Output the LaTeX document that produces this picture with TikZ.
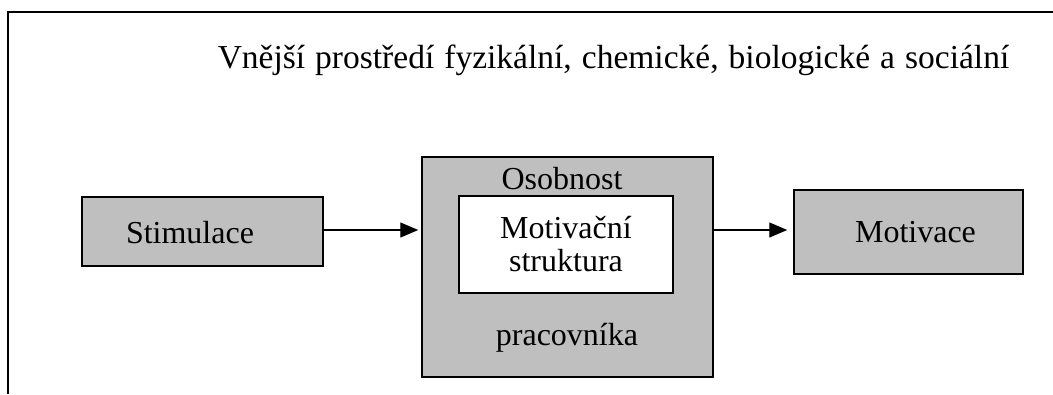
\documentclass[tikz,border=0pt]{standalone}
\usepackage{fontspec}
\setmainfont{Liberation Serif}
\usetikzlibrary{arrows.meta,positioning}

\begin{document}
\begin{tikzpicture}[
  x=1pt,y=-1pt,
  every node/.style={font=\fontsize{32}{36}\selectfont,align=center,inner sep=0pt},
  graybox/.style={draw,line width=1.5pt,fill=black!25},
  whitebox/.style={draw,line width=1.5pt,fill=white},
  arrow/.style={-{Triangle[length=18pt,width=15pt]},line width=1.3pt}
]
\useasboundingbox (0,0) rectangle (1053,394);
% frame
\draw[line width=2pt] (8,394) -- (8,12) -- (1053,12);
\node[font=\fontsize{33.5}{38}\selectfont] (env) at (613.5,60) {\spaceskip=1.2\fontdimen2\font Vnější prostředí fyzikální, chemické, biologické a sociální};

\node[graybox,minimum width=241pt,minimum height=69pt] (stim) at (202.5,231.5) {};
\node at (190,233) {Stimulace};
\node[graybox,minimum width=291pt,minimum height=220pt] (pers) at (567.5,267) {};
\node (persup) at (562,179) {Osobnost};
\node[whitebox,minimum width=214pt,minimum height=97pt] (inner) at (566,244.5) {Motivační\\[-3pt]struktura};
\node (perslow) at (567,338) {pracovníka};
\node[graybox,minimum width=229pt,minimum height=84pt] (motiv) at (908.5,232) {};
\node at (915.5,232) {Motivace};

\draw[arrow,shorten >=3pt] (stim.east |- 0,230) -- (pers.west |- 0,230);
\draw[arrow,shorten >=6pt] (pers.east |- 0,230) -- (motiv.west |- 0,230);
\end{tikzpicture}
\end{document}
